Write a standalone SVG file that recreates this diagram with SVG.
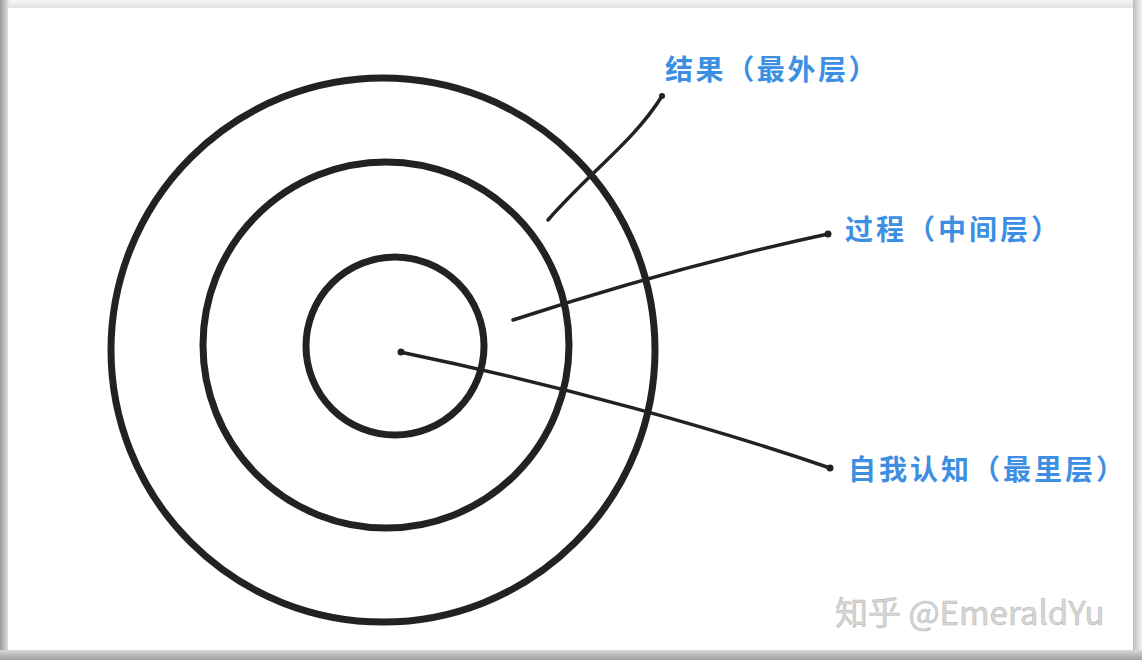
<svg xmlns="http://www.w3.org/2000/svg" width="1142" height="660" viewBox="0 0 1142 660">
<defs>
<linearGradient id="gl" x1="0" y1="0" x2="1" y2="0"><stop offset="0" stop-color="#9a9a9a"/><stop offset="1" stop-color="#e8e8e8"/></linearGradient>
<linearGradient id="gb" x1="0" y1="1" x2="0" y2="0"><stop offset="0" stop-color="#a0a0a0"/><stop offset="1" stop-color="#d8d8d8"/></linearGradient>
<linearGradient id="gt" x1="0" y1="0" x2="0" y2="1"><stop offset="0" stop-color="#f6f6f6"/><stop offset="1" stop-color="#e2e2e2"/></linearGradient>
<linearGradient id="gr" x1="0" y1="0" x2="1" y2="0"><stop offset="0" stop-color="#bdbdbd"/><stop offset="1" stop-color="#f4f4f4"/></linearGradient>
</defs>
<style>
.ring{fill:none;stroke:#222;stroke-width:7}
.lead{fill:none;stroke:#222;stroke-width:3.5;stroke-linecap:round}
.lbl{font-family:"Noto Sans CJK SC","Noto Sans",sans-serif;font-weight:bold;font-size:28px;fill:#3d8fe3;letter-spacing:3px}
.wm{font-family:"Noto Sans CJK SC","Noto Sans",sans-serif;font-size:33px;fill:#d6d6d6;stroke:#bdbdbd;stroke-width:0.6}
</style>
<rect x="0" y="0" width="1142" height="660" fill="#f4f4f4"/>
<rect x="0" y="0" width="1142" height="8" fill="url(#gt)"/>
<rect x="0" y="0" width="9" height="660" fill="url(#gl)"/>
<rect x="1133" y="0" width="9" height="660" fill="url(#gr)"/>
<rect x="0" y="650" width="1142" height="10" fill="url(#gb)"/>
<rect x="8" y="8" width="1125" height="642" fill="#ffffff"/>
<g id="outer"><circle class="ring" cx="383" cy="350" r="272"/></g>
<g id="middle"><circle class="ring" cx="386" cy="345" r="183"/></g>
<g id="inner"><circle class="ring" cx="395" cy="346" r="89"/></g>
<g id="connectors">
<path class="lead" d="M548,220 C590,172 635,140 662,96"/>
<circle cx="662" cy="96" r="3" fill="#222"/>
<path class="lead" d="M513,320 C620,285 730,255 828,234"/>
<circle cx="828" cy="234" r="3.5" fill="#222"/>
<path class="lead" d="M400,352 C560,385 720,430 830,468"/>
<circle cx="401" cy="352" r="3.5" fill="#222"/>
<circle cx="830" cy="468" r="3.5" fill="#222"/>
</g>
<g id="label-outer"><text class="lbl" x="665" y="80" style="letter-spacing:2.6px">结果（最外层）</text></g>
<g id="label-middle"><text class="lbl" x="845" y="240">过程（中间层）</text></g>
<g id="label-inner"><text class="lbl" x="848" y="480">自我认知（最里层）</text></g>
<g id="watermark"><text class="wm" x="835" y="625">知乎 @EmeraldYu</text></g>
</svg>
